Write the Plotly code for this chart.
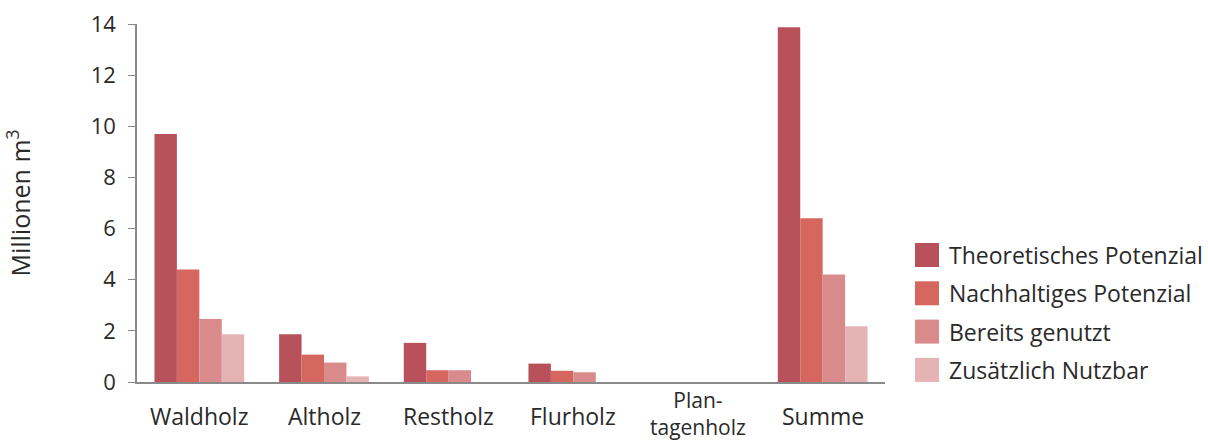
import plotly.graph_objects as go

categories = ["Waldholz", "Altholz", "Restholz", "Flurholz", "Plan-<br>tagenholz", "Summe"]
series_names = ["Theoretisches Potenzial", "Nachhaltiges Potenzial", "Bereits genutzt", "Zusätzlich Nutzbar"]
theoretisch = [9.7, 1.87, 1.53, 0.72, 0, 13.87]
nachhaltig = [4.4, 1.07, 0.46, 0.44, 0, 6.4]
genutzt = [2.46, 0.76, 0.46, 0.38, 0, 4.2]
zusaetzlich = [1.87, 0.22, 0, 0, 0, 2.18]
y_ticks = [0, 2, 4, 6, 8, 10, 12, 14]

colors = ["#b9515a", "#d5675f", "#d98b8b", "#e5b3b3"]
font = "Open Sans, Noto Sans, sans-serif"
text_color = "#2a2a2a"

fig = go.Figure()
for name, vals, col in zip(series_names, [theoretisch, nachhaltig, genutzt, zusaetzlich], colors):
    fig.add_trace(go.Bar(x=categories, y=vals, name=name, marker_color=col,
                         marker_line_width=0, showlegend=False))

plot_w, plot_h = 748, 358
plot_left, plot_bottom = 137, 382

# category labels under the axis
for cat in categories:
    n_lines = cat.count("<br>") + 1
    yc = 416 if n_lines == 1 else 413
    fig.add_annotation(xref="x", yref="paper", x=cat,
                       y=(plot_bottom - yc) / plot_h,
                       text=cat, showarrow=False, yanchor="middle",
                       font=dict(family=font, size=23 if n_lines == 1 else 21,
                                 color=text_color))

# legend: coloured squares with labels to their right
sq = 24
for i, (name, col) in enumerate(zip(series_names, colors)):
    yc = (plot_bottom - 255 - i * 38.3) / plot_h
    x0 = (915 - plot_left) / plot_w
    fig.add_shape(type="rect", xref="paper", yref="paper",
                  x0=x0, x1=x0 + sq / plot_w,
                  y0=yc - sq / 2 / plot_h, y1=yc + sq / 2 / plot_h,
                  fillcolor=col, line_width=0)
    fig.add_annotation(xref="paper", yref="paper", x=(947 - plot_left) / plot_w, y=yc,
                       text=name, showarrow=False, xanchor="left", yanchor="middle",
                       font=dict(family=font, size=23, color=text_color))

fig.update_layout(
    width=1208, height=445,
    margin=dict(l=137, r=323, t=24, b=63),
    paper_bgcolor="white", plot_bgcolor="white",
    barmode="group", bargap=0.28, bargroupgap=0,
    font=dict(family=font, size=22, color=text_color),
)
fig.update_xaxes(showline=True, linecolor="#8a8a8a", linewidth=1.5, ticks="",
                 showgrid=False, showticklabels=False, automargin=False)
fig.update_yaxes(range=[0, 14], tickvals=y_ticks, showline=True, linecolor="#8a8a8a",
                 linewidth=1.5, ticks="outside", ticklen=7, tickcolor="#8a8a8a",
                 showgrid=False, zeroline=False, tickfont=dict(size=22),
                 ticklabelstandoff=8, automargin=False,
                 title=dict(text="Millionen m<sup>3</sup>", standoff=54,
                            font=dict(size=25)))

fig.write_html("out.html")
